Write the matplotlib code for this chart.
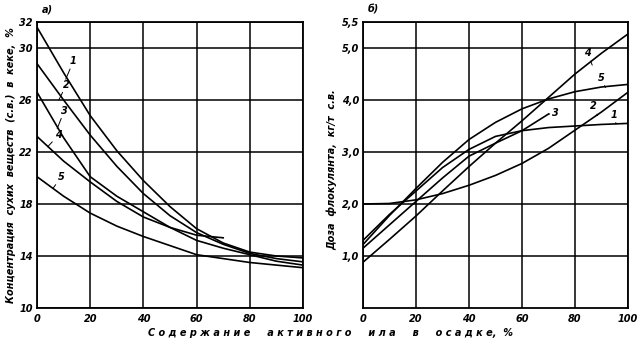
import matplotlib
matplotlib.use('Agg')
import matplotlib.pyplot as plt

# x positions (active sludge content, %)
x = [0, 10, 20, 30, 40, 50, 60, 70, 80, 90, 100]
x4_left = [0, 10, 20, 30, 40, 50, 60, 70]
x3_right = [0, 10, 20, 30, 40, 50, 60, 70]

# a) dry solids concentration in cake, %
conc_1 = [31.6, 28.1, 24.8, 22.1, 19.8, 17.8, 16.1, 15.0, 14.3, 14.0, 13.85]
conc_2 = [28.8, 26.0, 23.3, 20.9, 18.8, 17.1, 15.8, 14.9, 14.2, 13.8, 13.55]
conc_3 = [26.6, 23.1, 20.1, 18.6, 17.4, 16.2, 15.2, 14.6, 14.1, 13.6, 13.3]
conc_4 = [23.2, 21.3, 19.7, 18.2, 17.0, 16.2, 15.6, 15.4]
conc_5 = [20.1, 18.6, 17.3, 16.3, 15.5, 14.8, 14.1, 13.8, 13.5, 13.3, 13.1]

# b) flocculant dose, kg/t dry solids
dose_1 = [1.3, 1.8, 2.25, 2.7, 3.05, 3.3, 3.41, 3.47, 3.5, 3.53, 3.55]
dose_2 = [2.0, 2.01, 2.08, 2.2, 2.36, 2.55, 2.78, 3.07, 3.42, 3.77, 4.15]
dose_3 = [1.15, 1.6, 2.05, 2.5, 2.92, 3.17, 3.41, 3.73]
dose_4 = [0.88, 1.32, 1.77, 2.25, 2.72, 3.17, 3.6, 4.05, 4.5, 4.9, 5.27]
dose_5 = [1.22, 1.78, 2.3, 2.8, 3.24, 3.57, 3.83, 4.02, 4.16, 4.25, 4.3]

x_ticks = [0, 20, 40, 60, 80, 100]
left_yticks = [10, 14, 18, 22, 26, 30, 32]
right_yticks = [1.0, 2.0, 3.0, 4.0, 5.0, 5.5]
right_ylabels = ['1,0', '2,0', '3,0', '4,0', '5,0', '5,5']

plt.rcParams['font.family'] = 'DejaVu Sans'
fnt = dict(fontsize=7, fontweight='bold', fontstyle='italic')

fig = plt.figure(figsize=(6.38, 3.46), dpi=100)
ax1 = fig.add_axes([37 / 638, 38 / 346, 266 / 638, 286 / 346])
ax2 = fig.add_axes([363 / 638, 38 / 346, 265 / 638, 286 / 346])

for ax in (ax1, ax2):
    ax.set_xlim(0, 100)
    ax.set_xticks(x_ticks)
    ax.set_xticklabels([str(t) for t in x_ticks], **fnt)
    ax.tick_params(axis='x', length=0, pad=4)
    ax.tick_params(axis='y', length=0, pad=3)
    ax.grid(True, color='black', linewidth=1.1)
    ax.set_axisbelow(True)
    for s in ax.spines.values():
        s.set_linewidth(1.3)

lw = 1.2
ax1.set_ylim(10, 32)
ax1.set_yticks(left_yticks)
ax1.set_yticklabels([str(t) for t in left_yticks], **fnt)
ax1.plot(x, conc_1, color='black', lw=lw)
ax1.plot(x, conc_2, color='black', lw=lw)
ax1.plot(x, conc_3, color='black', lw=lw)
ax1.plot(x4_left, conc_4, color='black', lw=lw)
ax1.plot(x, conc_5, color='black', lw=lw)

ax2.set_ylim(0, 5.5)
ax2.set_yticks(right_yticks)
ax2.set_yticklabels(right_ylabels, **fnt)
ax2.plot(x, dose_1, color='black', lw=lw)
ax2.plot(x, dose_2, color='black', lw=lw)
ax2.plot(x3_right, dose_3, color='black', lw=lw)
ax2.plot(x, dose_4, color='black', lw=lw)
ax2.plot(x, dose_5, color='black', lw=lw)

# curve numbers with short leader strokes
lead = dict(arrowstyle='-', color='black', lw=0.7, shrinkA=0, shrinkB=0)
left_labels = [('1', (12.4, 28.6), (10.8, 27.6)),
               ('2', (9.8, 26.8), (8.2, 26.0)),
               ('3', (9.0, 24.8), (7.6, 23.8)),
               ('4', (6.8, 22.9), (4.0, 22.4)),
               ('5', (7.9, 19.7), (6.0, 19.2))]
for t, xy_text, xy in left_labels:
    ax1.annotate(t, xy=xy, xytext=xy_text, arrowprops=lead,
                 ha='left', va='bottom', **fnt)

right_labels = [('4', (83.5, 4.8), (86.5, 4.67)),
                ('5', (88.5, 4.33), (91.5, 4.24)),
                ('3', (71.5, 3.65), (70.0, 3.73)),
                ('2', (85.5, 3.78), (88.5, 3.7)),
                ('1', (93.5, 3.62), (95.5, 3.54))]
for t, xy_text, xy in right_labels:
    ax2.annotate(t, xy=xy, xytext=xy_text, arrowprops=lead,
                 ha='left', va='bottom', **fnt)

fig.text(47 / 638, 1 - 9 / 346, 'а)', ha='center', va='center', **fnt)
fig.text(373 / 638, 1 - 9 / 346, 'б)', ha='center', va='center', **fnt)

fig.text(11 / 638, 1 - 165 / 346, 'Концентрация  сухих  веществ  (с.в.)  в  кеке,  %',
         rotation=90, ha='center', va='center', **fnt)
fig.text(332 / 638, 1 - 170 / 346, 'Доза  флокулянта,  кг/т  с.в.',
         rotation=90, ha='center', va='center', **fnt)
fig.text(330 / 638, 1 - 333 / 346,
         'С о д е р ж а н и е     а к т и в н о г о     и л а     в     о с а д к е,  %',
         ha='center', va='center', **fnt)

fig.savefig('out.png', dpi=100)
